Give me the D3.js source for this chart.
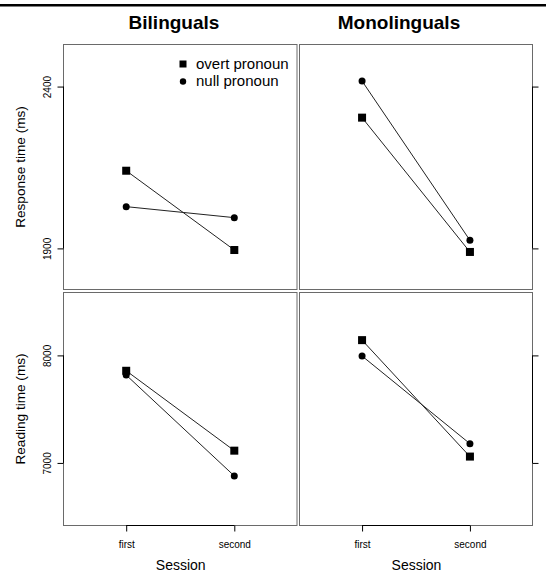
<!DOCTYPE html>
<html>
<head>
<meta charset="utf-8">
<script src="https://cdn.jsdelivr.net/npm/d3@7"></script>
<style>
  body { margin: 0; background: #fff; }
  svg { display: block; font-family: "Liberation Sans", Arial, Helvetica, sans-serif; }
</style>
</head>
<body>
<div id="chart"></div>
<script>
// Data
const sessions = ["first", "second"];
const groups = ["Bilinguals", "Monolinguals"];
const measures = ["Response time (ms)", "Reading time (ms)"];
const pronouns = ["overt pronoun", "null pronoun"];

// response times, [first, second]
const bilRtOvert = [2140, 1895];
const bilRtNull = [2029, 1995];
const monRtOvert = [2304, 1889];
const monRtNull = [2417, 1925];

// reading times, [first, second]
const bilReadOvert = [7857, 7114];
const bilReadNull = [7817, 6879];
const monReadOvert = [8142, 7059];
const monReadNull = [7994, 7179];

const rtTicks = [1900, 2400];
const readTicks = [7000, 8000];

const W = 546, H = 573;

const svg = d3.select("#chart")
  .append("svg")
  .attr("width", W)
  .attr("height", H);

// thick rule at the top
svg.append("rect")
  .attr("x", 0).attr("y", 4)
  .attr("width", W).attr("height", 2.5)
  .attr("fill", "#000");

// panel geometry
const cols = [{x0: 63.5, x1: 297}, {x0: 299.5, x1: 532.5}];
const rows = [
  {y0: 44.5, y1: 289.5, domain: [1773, 2530], ticks: rtTicks},
  {y0: 292.5, y1: 525.5, domain: [6418, 8585], ticks: readTicks}
];

const panelData = [
  [[bilRtOvert, bilRtNull], [monRtOvert, monRtNull]],
  [[bilReadOvert, bilReadNull], [monReadOvert, monReadNull]]
];

const yScales = rows.map(r => d3.scaleLinear().domain(r.domain).range([r.y1, r.y0]));
const xScales = cols.map(c => d3.scalePoint().domain(sessions).range([c.x0, c.x1]).padding(0.58));

// panels
rows.forEach((r, ri) => {
  cols.forEach((c, ci) => {
    const g = svg.append("g");
    g.append("rect")
      .attr("x", c.x0).attr("y", r.y0)
      .attr("width", c.x1 - c.x0).attr("height", r.y1 - r.y0)
      .attr("fill", "none")
      .attr("stroke", "#6a6a6a")
      .attr("stroke-width", 1);

    const x = xScales[ci], y = yScales[ri];
    const line = d3.line().x((d, i) => x(sessions[i])).y(d => y(d));

    panelData[ri][ci].forEach((vals, si) => {
      g.append("path")
        .attr("d", line(vals))
        .attr("fill", "none")
        .attr("stroke", "#222")
        .attr("stroke-width", 1);

      vals.forEach((v, i) => {
        if (si === 0) {
          g.append("rect")
            .attr("x", x(sessions[i]) - 4).attr("y", y(v) - 4)
            .attr("width", 8).attr("height", 8)
            .attr("fill", "#000");
        } else {
          g.append("circle")
            .attr("cx", x(sessions[i])).attr("cy", y(v))
            .attr("r", 3.5)
            .attr("fill", "#000");
        }
      });
    });
  });
});

// left axes (with labels)
rows.forEach((r, ri) => {
  const y = yScales[ri];
  const ax = svg.append("g")
    .attr("transform", `translate(${cols[0].x0},0)`)
    .call(d3.axisLeft(y).tickValues(r.ticks).tickSizeInner(6).tickSizeOuter(0).tickFormat(d3.format("d")));
  ax.select(".domain").remove();
  ax.selectAll("line").attr("stroke", "#000");
  ax.selectAll("text")
    .attr("x", null).attr("dy", null)
    .attr("transform", "translate(-13,0) rotate(-90)")
    .attr("text-anchor", "middle")
    .attr("font-size", 10)
    .attr("font-family", null)
    .attr("fill", "#000");
  ax.append("line")
    .attr("x1", 0).attr("x2", 0)
    .attr("y1", y(r.ticks[0])).attr("y2", y(r.ticks[1]))
    .attr("stroke", "#000");

  // right axes, ticks only
  const axR = svg.append("g")
    .attr("transform", `translate(${cols[1].x1},0)`)
    .call(d3.axisRight(y).tickValues(r.ticks).tickSizeInner(6).tickSizeOuter(0).tickFormat(""));
  axR.select(".domain").remove();
  axR.selectAll("line").attr("stroke", "#000");
  axR.append("line")
    .attr("x1", 0).attr("x2", 0)
    .attr("y1", y(r.ticks[0])).attr("y2", y(r.ticks[1]))
    .attr("stroke", "#000");

  // y axis title
  svg.append("text")
    .attr("transform", `translate(25,${(r.y0 + r.y1) / 2}) rotate(-90)`)
    .attr("text-anchor", "middle")
    .attr("font-size", 13.6)
    .text(measures[ri]);
});

// bottom axes
cols.forEach((c, ci) => {
  const x = xScales[ci];
  const ax = svg.append("g")
    .attr("transform", `translate(0,${rows[1].y1})`)
    .call(d3.axisBottom(x).tickSizeInner(6).tickSizeOuter(0));
  ax.select(".domain").remove();
  ax.selectAll("line").attr("stroke", "#000");
  ax.selectAll("text")
    .attr("y", 22).attr("dy", null)
    .attr("font-size", 10)
    .attr("font-family", null)
    .attr("fill", "#000");
  ax.append("line")
    .attr("x1", x(sessions[0])).attr("x2", x(sessions[1]))
    .attr("y1", 0).attr("y2", 0)
    .attr("stroke", "#000");

  svg.append("text")
    .attr("x", (c.x0 + c.x1) / 2 + 0.5)
    .attr("y", 569.5)
    .attr("text-anchor", "middle")
    .attr("font-size", 14)
    .text("Session");
});

// group titles
const titleX = [174, 399];
groups.forEach((gname, i) => {
  svg.append("text")
    .attr("x", titleX[i])
    .attr("y", 28.5)
    .attr("text-anchor", "middle")
    .attr("font-size", 19)
    .attr("font-weight", "bold")
    .text(gname);
});

// legend
const legend = svg.append("g");
pronouns.forEach((p, i) => {
  const ly = 64 + i * 17.5;
  if (i === 0) {
    legend.append("rect")
      .attr("x", 183 - 3.5).attr("y", ly - 3.5)
      .attr("width", 7).attr("height", 7)
      .attr("fill", "#000");
  } else {
    legend.append("circle")
      .attr("cx", 183).attr("cy", ly)
      .attr("r", 3.2)
      .attr("fill", "#000");
  }
  legend.append("text")
    .attr("x", 196)
    .attr("y", ly + 4.5)
    .attr("font-size", 15)
    .text(p);
});
</script>
</body>
</html>
